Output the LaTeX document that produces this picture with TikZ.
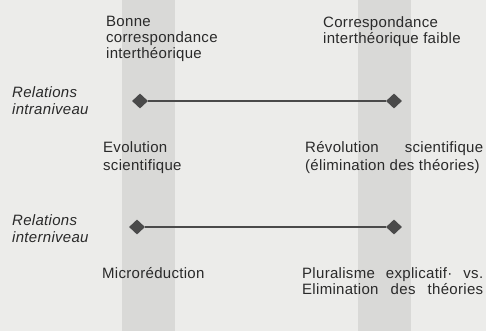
\documentclass[tikz,border=0pt]{standalone}
\usepackage{fontspec}
\setmainfont[LetterSpace=2]{Liberation Sans}
\usetikzlibrary{shapes.geometric}
\definecolor{pagebg}{HTML}{ECECEA}
\definecolor{bandgray}{HTML}{D9D9D7}
\definecolor{inkgray}{HTML}{4A4A4A}
\definecolor{textgray}{HTML}{2A2A2A}
\tikzset{
  band/.style={fill=bandgray, draw=none},
  endpt/.style={diamond, fill=inkgray, draw=none, inner sep=0pt, minimum width=16pt, minimum height=15pt},
  link/.style={draw=inkgray, line width=1.6pt},
  lbl/.style={anchor=base west, inner sep=0pt, text=textgray, font=\fontsize{15}{16.5}\selectfont},
  ilbl/.style={lbl, font=\fontsize{15}{16.5}\selectfont\itshape},
}
\begin{document}
\begin{tikzpicture}[x=1pt,y=-1pt]
\fill[pagebg] (0,0) rectangle (486,331);
\useasboundingbox (0,0) rectangle (486,331);
% vertical bands
\fill[band] (122,0) rectangle (175,331);
\fill[band] (358,0) rectangle (411,331);
% top labels
\node[lbl] (bonne1) at (106,27) {Bonne};
\node[lbl] (bonne2) at (106,43) {correspondance};
\node[lbl] (bonne3) at (106,59) {interthéorique};
\node[lbl] (corr1) at (323,28) {Correspondance};
\node[lbl] (corr2) at (323,44) {interthéorique faible};
% intraniveau
\node[ilbl] (intra1) at (12,98) {Relations};
\node[ilbl] (intra2) at (12,115) {intraniveau};
\node[endpt] (a1) at (140,101) {};
\node[endpt] (a2) at (394,101) {};
\draw[link] (a1) -- (a2);
\node[lbl] (evo1) at (103,153) {Evolution};
\node[lbl] (evo2) at (103,170) {scientifique};
\node[lbl] (revo1) at (305,153) {\makebox[178pt][s]{Révolution scientifique}};
\node[lbl] (revo2) at (305,170) {(élimination des théories)};
% interniveau
\node[ilbl] (inter1) at (12,225) {Relations};
\node[ilbl] (inter2) at (12,242) {interniveau};
\node[endpt] (b1) at (137,227) {};
\node[endpt] (b2) at (394,227) {};
\draw[link] (b1) -- (b2);
\node[lbl] (micro) at (102,278) {Microréduction};
\node[lbl] (plur1) at (302,278) {\makebox[181pt][s]{Pluralisme explicatif· vs.}};
\node[lbl] (plur2) at (302,294) {\makebox[181pt][s]{Elimination des théories}};
\end{tikzpicture}
\end{document}
